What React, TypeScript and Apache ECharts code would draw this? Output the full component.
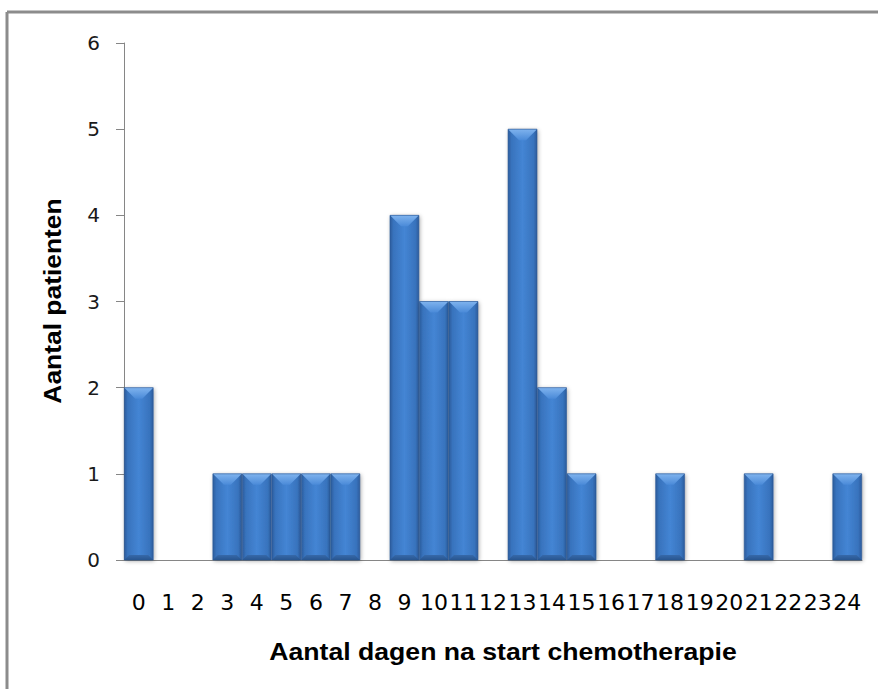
import React, { useEffect, useRef } from "react";
import * as echarts from "echarts";

const categories = ["0","1","2","3","4","5","6","7","8","9","10","11","12","13","14","15","16","17","18","19","20","21","22","23","24"];
const values = [2,0,0,1,1,1,1,1,0,4,3,3,0,5,2,1,0,0,1,0,0,1,0,0,1];
const yTitle = "Aantal patienten";
const xTitle = "Aantal dagen na start chemotherapie";

export default function App() {
  const ref = useRef<HTMLDivElement>(null);
  useEffect(() => {
    if (!ref.current) return;
    const chart = echarts.init(ref.current, undefined, { renderer: "svg" });
    const mainFill = () =>
      new echarts.graphic.LinearGradient(0, 0, 1, 0, [
        { offset: 0, color: "#2b5c9c" },
        { offset: 0.12, color: "#3873bd" },
        { offset: 0.5, color: "#4485d4" },
        { offset: 0.88, color: "#3873bd" },
        { offset: 1, color: "#2b5c9c" },
      ]);
    const topFill = () =>
      new echarts.graphic.LinearGradient(0, 0, 0, 1, [
        { offset: 0, color: "#7fb3ee" },
        { offset: 1, color: "#4a8ad8" },
      ]);
    const bottomFill = () =>
      new echarts.graphic.LinearGradient(0, 0, 0, 1, [
        { offset: 0, color: "#3669aa" },
        { offset: 1, color: "#28558f" },
      ]);
    const data = values.map((v, i) => [i, v]);
    chart.setOption({
      animation: false,
      backgroundColor: "#ffffff",
      grid: { left: 124, right: 16, top: 43, bottom: 129, containLabel: false },
      graphic: [
        { type: "line", shape: { x1: 7, y1: 12, x2: 878, y2: 12 }, style: { stroke: "#8c8c8c", lineWidth: 3 } },
        { type: "line", shape: { x1: 7, y1: 12, x2: 7, y2: 689 }, style: { stroke: "#8c8c8c", lineWidth: 3 } },
        {
          type: "text", x: 52, y: 301, rotation: Math.PI / 2, scaleX: 1.1,
          style: { text: yTitle, font: "bold 24px 'Liberation Sans', Arial, sans-serif", fill: "#000", align: "center", verticalAlign: "middle" },
        },
        {
          type: "text", x: 503, y: 651, scaleX: 1.11,
          style: { text: xTitle, font: "bold 24px 'Liberation Sans', Arial, sans-serif", fill: "#000", align: "center", verticalAlign: "middle" },
        },
      ],
      xAxis: {
        type: "category",
        data: categories,
        axisLine: { lineStyle: { color: "#868686", width: 1 } },
        axisTick: { show: false },
        axisLabel: { interval: 0, margin: 31, color: "#000", fontSize: 22, fontFamily: "'DejaVu Sans', sans-serif" },
      },
      yAxis: {
        type: "value",
        min: 0,
        max: 6,
        interval: 1,
        splitLine: { show: false },
        axisLine: { show: true, lineStyle: { color: "#868686", width: 1 } },
        axisTick: { show: true, length: 8, lineStyle: { color: "#868686" } },
        axisLabel: { margin: 24, color: "#1a1a1a", fontSize: 20, fontFamily: "'DejaVu Sans', sans-serif" },
      },
      series: [
        {
          type: "custom",
          data,
          encode: { x: 0, y: 1 },
          renderItem: (params: any, api: any) => {
            const idx = api.value(0);
            const v = api.value(1);
            if (!v) return null;
            const top = api.coord([idx, v]);
            const bot = api.coord([idx, 0]);
            const w = api.size([1, 0])[0] * 0.98;
            const l = top[0] - w / 2;
            const r = top[0] + w / 2;
            const t = top[1];
            const b = bot[1];
            const bev = Math.min(11, (b - t) / 3);
            const bb = Math.min(5, (b - t) / 6);
            return {
              type: "group",
              children: [
                {
                  type: "rect",
                  shape: { x: l, y: t, width: w, height: b - t },
                  style: { fill: mainFill(), shadowBlur: 4, shadowColor: "rgba(0,0,0,0.35)", shadowOffsetX: 1, shadowOffsetY: 1 },
                },
                {
                  type: "polygon",
                  shape: { points: [[l, t], [r, t], [r - bev, t + bev], [l + bev, t + bev]] },
                  style: { fill: topFill() },
                },
                {
                  type: "polygon",
                  shape: { points: [[l, b], [r, b], [r - bb, b - bb], [l + bb, b - bb]] },
                  style: { fill: bottomFill() },
                },
                {
                  type: "rect",
                  shape: { x: l, y: t, width: w, height: b - t },
                  style: { fill: "none", stroke: "#2a5896", lineWidth: 0.6 },
                },
              ],
            };
          },
        },
      ],
    });
    return () => chart.dispose();
  }, []);
  return <div ref={ref} style={{ position: "fixed", left: 0, top: 0, width: 878, height: 689 }} />;
}
